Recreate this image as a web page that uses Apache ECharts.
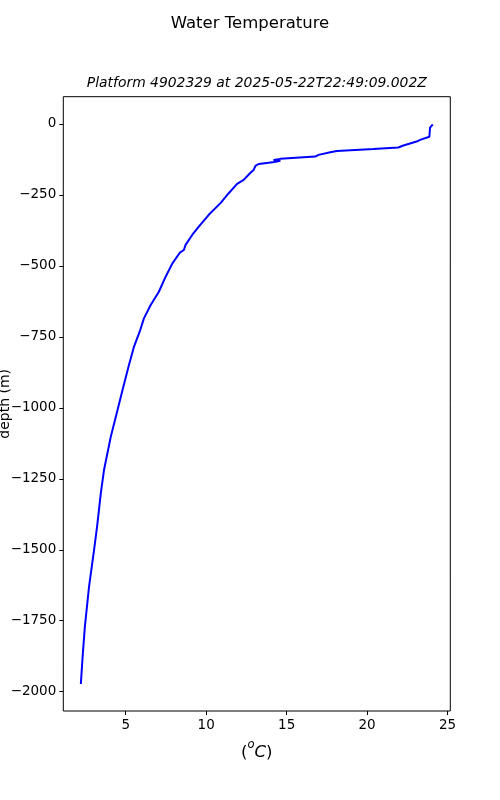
<!DOCTYPE html>
<html>
<head>
<meta charset="utf-8">
<script src="https://cdn.jsdelivr.net/npm/echarts@6/dist/echarts.min.js"></script>
<style>html,body{margin:0;padding:0;background:#fff;}#chart{width:500px;height:800px;}</style>
</head>
<body>
<div id="chart"></div>
<script>
var temperature = [24.08, 23.96, 23.91, 23.87, 23.29, 23.08, 22.25, 21.94, 20.39, 18.12, 17.71, 16.98, 16.78, 14.61, 14.18, 14.61, 14.24, 13.26, 13.06, 12.95, 12.75, 12.33, 11.92, 11.40, 10.89, 10.16, 9.54, 9.13, 8.72, 8.61, 8.37, 7.90, 7.48, 7.06, 6.55, 6.13, 5.90, 5.51, 5.20, 4.80, 4.49, 4.07, 3.65, 3.45, 3.23, 3.03, 2.72, 2.46, 2.32, 2.21];
var depth = [-2, -4, -13, -45, -56, -62, -76, -83, -88, -95, -100, -109, -115, -123, -127, -130, -134, -141, -148, -162, -172, -197, -211, -244, -279, -320, -362, -391, -426, -444, -453, -491, -538, -591, -638, -685, -726, -785, -849, -937, -1008, -1102, -1219, -1301, -1413, -1501, -1630, -1771, -1877, -1973];
var xTicks = [5, 10, 15, 20, 25];
var yTicks = [0, -250, -500, -750, -1000, -1250, -1500, -1750, -2000];

var FONT = 'DejaVu Sans';
var pts = temperature.map(function (t, i) { return [t, depth[i]]; });
var chart = echarts.init(document.getElementById('chart'), null, {renderer: 'canvas'});
chart.setOption({
  animation: false,
  backgroundColor: '#fff',
  grid: {left: 63.3, right: 49.7, top: 96.7, bottom: 89, containLabel: false, outerBoundsMode: 'none',
    show: true, borderColor: '#000', borderWidth: 1, backgroundColor: 'transparent'},
  xAxis: {
    type: 'value', min: 1.12, max: 25.17,
    axisLine: {show: false, onZero: false},
    splitLine: {show: false},
    axisTick: {show: true, length: 4, lineStyle: {color: '#000'}, customValues: xTicks},
    axisLabel: {color: '#000', fontFamily: FONT, fontSize: 13.5, margin: 7, customValues: xTicks}
  },
  yAxis: {
    type: 'value', min: -2068, max: 96,
    axisLine: {show: false, onZero: false},
    splitLine: {show: false},
    axisTick: {show: true, length: 4, lineStyle: {color: '#000'}, customValues: yTicks},
    axisLabel: {color: '#000', fontFamily: FONT, fontSize: 13.5, margin: 7, customValues: yTicks,
      formatter: function (v) { return String(v).replace('-', '\u2212'); }},
    name: 'depth (m)', nameLocation: 'middle', nameRotate: 90, nameGap: 51, nameMoveOverlap: false,
    nameTextStyle: {color: '#000', fontFamily: FONT, fontSize: 14}
  },
  graphic: [
    {type: 'text', x: 250, y: 24, style: {text: 'Water Temperature', fill: '#000', font: '16.5px "DejaVu Sans"', textAlign: 'center', textVerticalAlign: 'middle'}},
    {type: 'text', x: 256.8, y: 83, style: {text: 'Platform 4902329 at 2025-05-22T22:49:09.002Z', fill: '#000', font: 'italic 13.9px "DejaVu Sans"', textAlign: 'center', textVerticalAlign: 'middle'}},
    {type: 'text', x: 256.8, y: 750, style: {
      text: '{p|(}{s|o}{c|C}{p|)}', textAlign: 'center', textVerticalAlign: 'middle',
      rich: {
        p: {fontFamily: FONT, fontSize: 16.5, fill: '#000', lineHeight: 22, verticalAlign: 'bottom'},
        s: {fontFamily: FONT, fontSize: 11.5, fontStyle: 'italic', fill: '#000', lineHeight: 22, verticalAlign: 'top'},
        c: {fontFamily: FONT, fontSize: 16.5, fontStyle: 'italic', fill: '#000', lineHeight: 22, verticalAlign: 'bottom'}
      }
    }}
  ],
  series: [{
    type: 'line', data: pts, showSymbol: false, symbol: 'none',
    lineStyle: {color: '#0000ff', width: 2}, clip: true
  }]
});
</script>
</body>
</html>
